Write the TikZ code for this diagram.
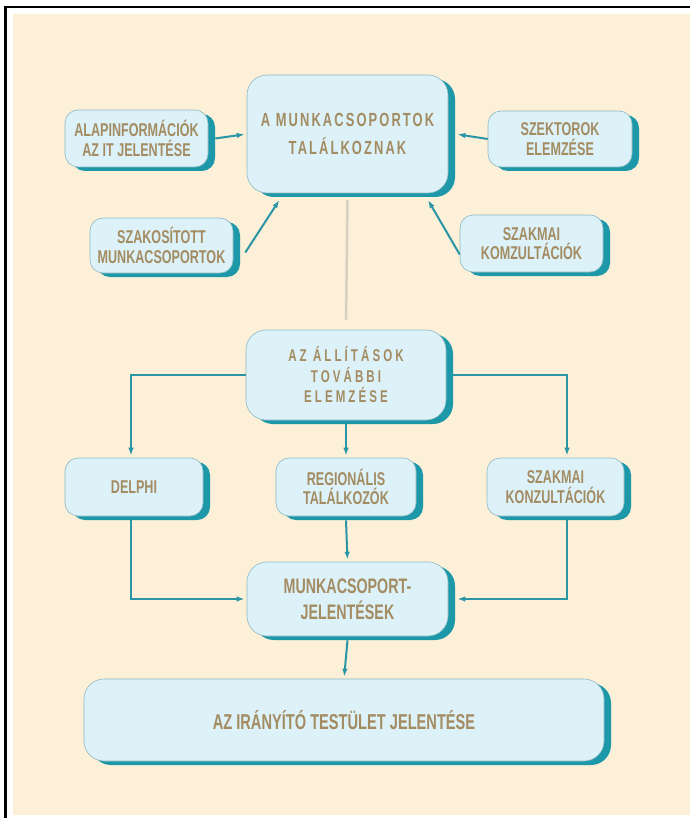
\documentclass[tikz,border=0pt]{standalone}
\usepackage{fontspec}
\usetikzlibrary{arrows.meta,shadows}
\newfontfamily\cond[FakeStretch=0.68]{Liberation Sans}
\newfontfamily\condwide[FakeStretch=0.68,LetterSpace=11]{Liberation Sans}
\newfontfamily\condwider[FakeStretch=0.68,LetterSpace=18]{Liberation Sans}
\definecolor{pagebg}{HTML}{FCF0D9}
\definecolor{boxfill}{HTML}{DDF1F8}
\definecolor{boxline}{HTML}{8DB9C2}
\definecolor{boxshade}{HTML}{1C98A8}
\definecolor{connteal}{HTML}{2A95A5}
\definecolor{labeltan}{HTML}{A38C62}
\definecolor{axisgray}{HTML}{D6D0BF}
\tikzset{
  box/.style={draw=boxline, line width=0.6pt, fill=boxfill, rounded corners=13pt,
    drop shadow={shadow xshift=7pt, shadow yshift=-4pt, fill=boxshade, opacity=1},
    align=center, text=labeltan, inner sep=0pt,
    font=\cond\bfseries\fontsize{18.5}{19.5}\selectfont},
  bigbox/.style={box, rounded corners=20pt},
  conn/.style={draw=connteal, line width=2pt, -{Latex[length=8pt,width=5.5pt]}, shorten >=2pt},
}
\begin{document}
\begin{tikzpicture}[x=1pt,y=-1pt]
  \useasboundingbox (0,0) rectangle (690,818);
  \fill[white] (0,0) rectangle (690,818);
  \fill[pagebg] (13,14) rectangle (690,815);
  \draw[black, line width=2.6pt] (5.2,818) -- (5.2,7) -- (690,7);

  % upper group
  \node[bigbox, minimum width=201pt, minimum height=118pt,
        font=\condwide\bfseries\fontsize{19}{28}\selectfont]
        (meet) at (347.5,134) {A MUNKACSOPORTOK\\TALÁLKOZNAK};
  \node[box, minimum width=143pt, minimum height=57pt] (alap) at (136.5,138.5)
        {ALAPINFORMÁCIÓK\\AZ IT JELENTÉSE};
  \node[box, minimum width=144pt, minimum height=56pt] (szektor) at (560,139)
        {SZEKTOROK\\ELEMZÉSE};
  \node[box, minimum width=143pt, minimum height=55pt] (szakos) at (161.5,245.5)
        {SZAKOSÍTOTT\\MUNKACSOPORTOK};
  \node[box, minimum width=143pt, minimum height=57pt] (konz) at (531.5,243.5)
        {SZAKMAI\\KOMZULTÁCIÓK};

  % lower group
  \node[bigbox, minimum width=200pt, minimum height=90pt,
        font=\condwider\bfseries\fontsize{17}{20.5}\selectfont]
        (allit) at (346,375) {AZ ÁLLÍTÁSOK\\TOVÁBBI\\ELEMZÉSE};
  \node[box, minimum width=138pt, minimum height=58pt] (delphi) at (134,487) {DELPHI};
  \node[box, minimum width=140pt, minimum height=58pt] (region) at (346,487)
        {REGIONÁLIS\\TALÁLKOZÓK};
  \node[box, minimum width=137pt, minimum height=58pt] (konzb) at (555.5,487)
        {SZAKMAI\\KONZULTÁCIÓK};
  \node[bigbox, minimum width=201pt, minimum height=74pt,
        font=\cond\bfseries\fontsize{21}{26}\selectfont]
        (munka) at (347.5,599) {MUNKACSOPORT-\\JELENTÉSEK};
  \node[bigbox, minimum width=520pt, minimum height=82pt,
        font=\cond\bfseries\fontsize{21.5}{24}\selectfont]
        (board) at (344,720) {AZ IRÁNYÍTÓ TESTÜLET JELENTÉSE};

  % inputs to the meeting
  \draw[conn] ([xshift=7pt]alap.east) -- (meet.west);
  \draw[conn] (szektor.west) -- ([xshift=7pt]meet.east);
  \draw[conn] ([xshift=12pt,yshift=-7pt]szakos.east) -- ([xshift=-67pt,yshift=-5pt]meet.south);
  \draw[conn] ([yshift=-11pt]konz.west) -- ([xshift=79.5pt,yshift=-5pt]meet.south);

  % faint axis between the two groups
  \draw[axisgray, line width=2.5pt] ([yshift=-7pt]meet.south) -- ([yshift=10pt]allit.north);

  % analysis branches
  \draw[conn] (allit.west) -| ([xshift=-3pt]delphi.north);
  \draw[conn] ([xshift=7pt]allit.east) -| ([xshift=11.5pt]konzb.north);
  \draw[conn] ([yshift=-4pt]allit.south) -- (region.north);
  \draw[conn] ([xshift=-3pt,yshift=-4pt]delphi.south) |- (munka.west);
  \draw[conn] ([xshift=11.5pt,yshift=-4pt]konzb.south) |- ([xshift=7pt]munka.east);
  \draw[conn] ([yshift=-4pt]region.south) -- (munka.north);
  \draw[conn] ([yshift=-4pt]munka.south) -- (board.north);
\end{tikzpicture}
\end{document}
